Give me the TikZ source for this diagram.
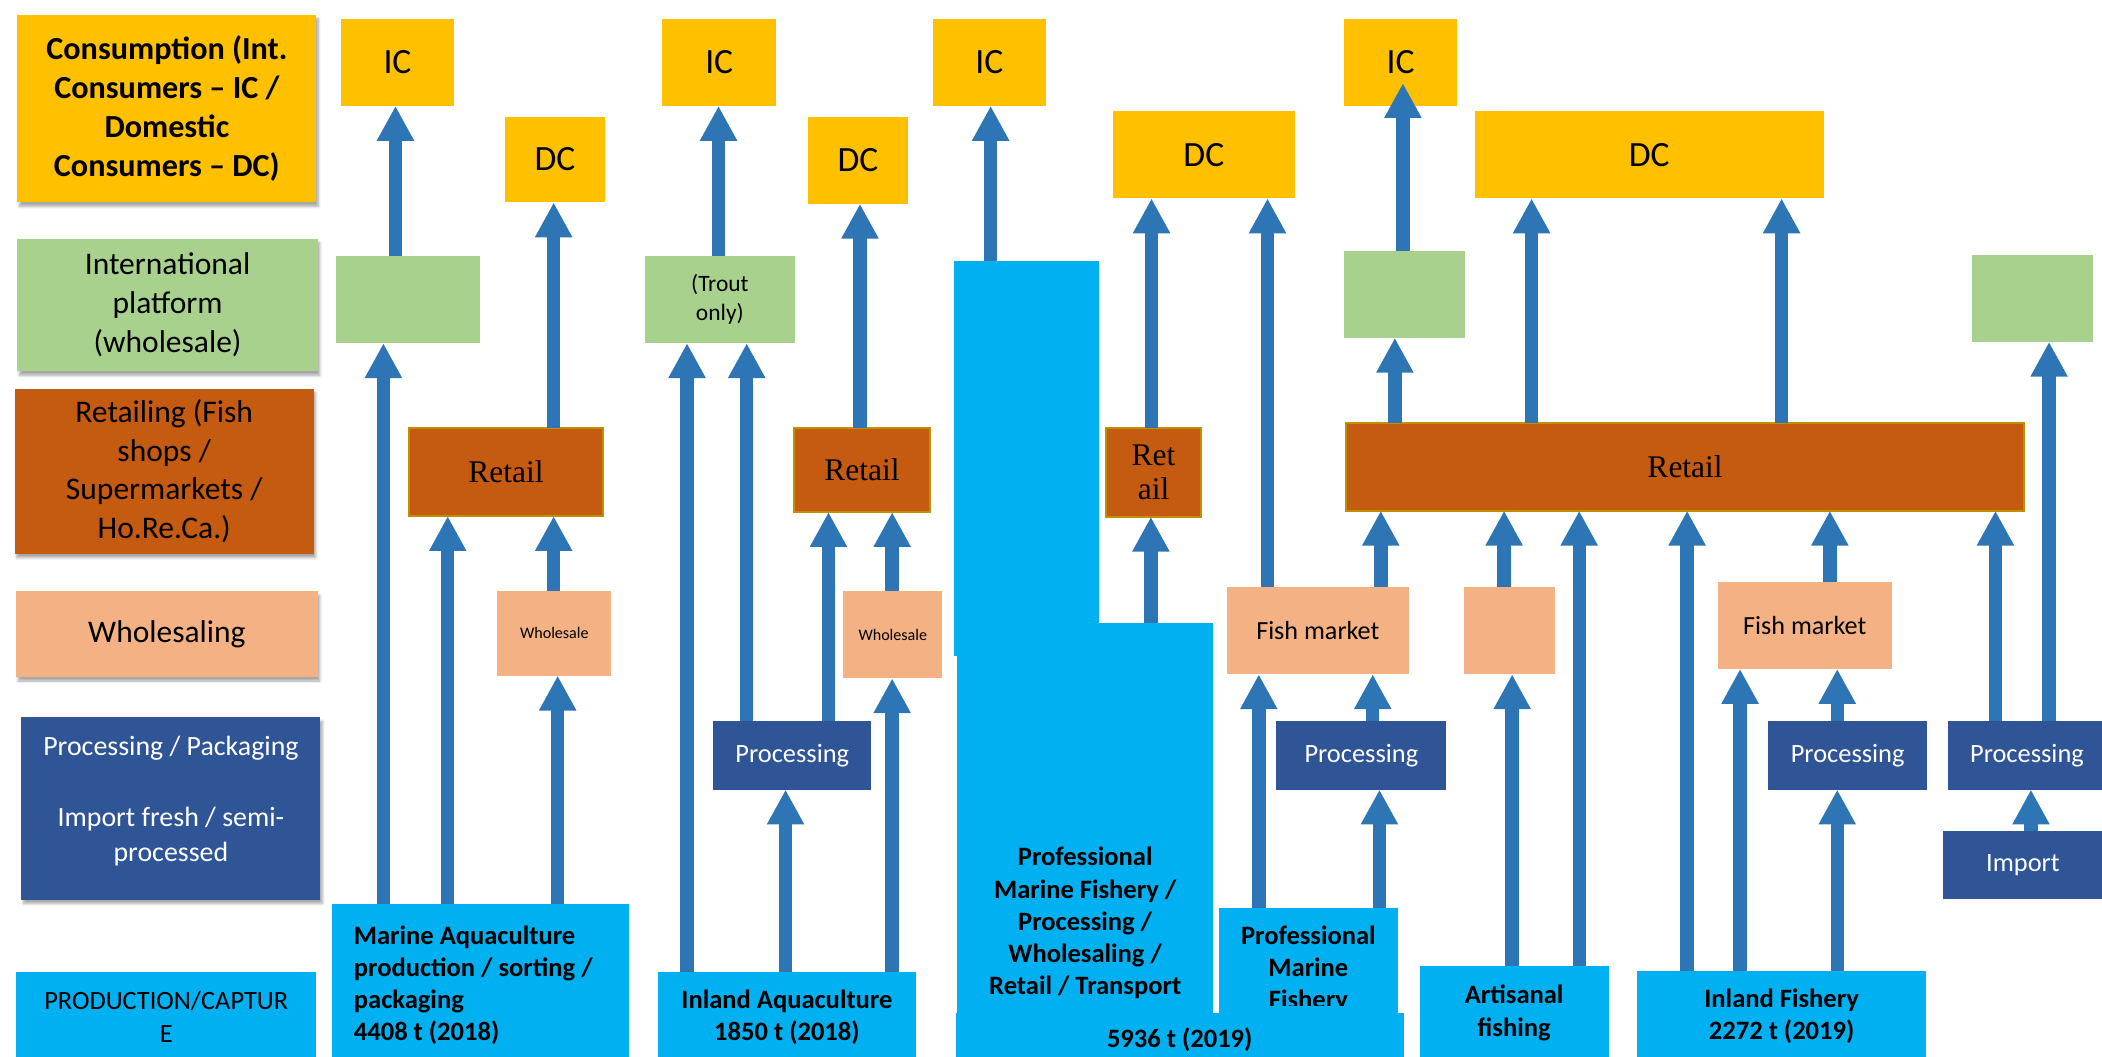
\documentclass[tikz,border=0pt]{standalone}
\usepackage{fontspec}
\setmainfont{Carlito}
\newfontfamily\retailfont{Liberation Serif}
\usetikzlibrary{arrows.meta, calc, shadows.blur}

\definecolor{consyellow}{HTML}{FFC000}
\definecolor{intlgreen}{HTML}{A9D18E}
\definecolor{retailbrown}{HTML}{C55A11}
\definecolor{retailedge}{HTML}{BF9000}
\definecolor{wholepeach}{HTML}{F4B183}
\definecolor{procblue}{HTML}{2F5597}
\definecolor{prodcyan}{HTML}{00B0F0}
\definecolor{arrowblue}{HTML}{2E75B6}

\begin{document}
\begin{tikzpicture}[
    x=1pt, y=-1pt,
    boxsize/.style 2 args={minimum width=#1pt, minimum height=#2pt},
    plain/.style={inner sep=0pt, outer sep=0pt, align=flush center},
    sidelbl/.style={plain, font=\fontsize{23.5}{29}\selectfont,
        blur shadow={shadow xshift=1.5pt, shadow yshift=-3pt, shadow blur steps=6, shadow opacity=35}},
    consbox/.style={plain, fill=consyellow, font=\fontsize{26.5}{30}\selectfont},
    intlbox/.style={plain, fill=intlgreen},
    retbox/.style={plain, fill=retailbrown, draw=retailedge, line width=1.5pt,
        font=\retailfont\fontsize{23.5}{25.7}\selectfont},
    whsbox/.style={plain, fill=wholepeach},
    procbox/.style={plain, fill=procblue, text=white, font=\fontsize{19.7}{24}\selectfont},
    prodbox/.style={plain, fill=prodcyan, font=\bfseries\fontsize{19.8}{24}\selectfont},
    flow/.style={draw=arrowblue, line width=10pt, -{Triangle[length=26pt, width=26pt]}}
]
    \useasboundingbox (0,0) rectangle (1568,788);

    % === stage labels (left) ===
    \node[sidelbl, fill=consyellow, boxsize={223}{140}, font=\bfseries\fontsize{24}{29}\selectfont]
        (lcons) at (124.5,81) {Consumption (Int.\\Consumers – IC /\\Domestic\\Consumers – DC)};
    \node[sidelbl, fill=intlgreen, boxsize={224}{99}] (lintl) at (125,227.5) {International\\platform\\(wholesale)};
    \node[sidelbl, fill=retailbrown, boxsize={223}{123}] (lret) at (122.5,351.5) {Retailing (Fish\\shops /\\Supermarkets /\\Ho.Re.Ca.)};
    \node[sidelbl, fill=wholepeach, boxsize={225}{64}] (lwhs) at (124.5,473) {Wholesaling};
    \node[sidelbl, fill=procblue, text=white, boxsize={223}{136}, font=\fontsize{20.8}{26.4}\selectfont]
        (lproc) at (127.5,603) {Processing / Packaging\\[26.4pt]Import fresh / semi-\\processed\\[-12pt]~};
    \node[plain, fill=prodcyan, boxsize={224}{67}, font=\fontsize{19.7}{24}\selectfont]
        (lprod) at (124,758.5) {PRODUCTION/CAPTUR\\E};

    % === 1. Marine aquaculture ===
    \node[consbox, boxsize={85}{65}] (ic1) at (296.5,46.5) {IC};
    \node[consbox, boxsize={74}{64}] (dc1) at (414,119) {DC};
    \node[intlbox, boxsize={107}{65}] (int1) at (304.5,223.5) {};
    \node[retbox, boxsize={145}{66}] (ret1) at (377.5,352) {Retail};
    \node[whsbox, boxsize={85}{63}, font=\fontsize{12}{14}\selectfont] (whs1) at (413.5,472.5) {Wholesale};
    \node[prodbox, boxsize={221}{122}, text width=189pt, inner xsep=16pt, align=flush left]
        (mprod) at (358.5,735) {Marine Aquaculture\\production / sorting /\\packaging\\4408 t (2018)};

    % === 2. Inland aquaculture ===
    \node[consbox, boxsize={85}{65}] (ic2) at (536.5,46.5) {IC};
    \node[consbox, boxsize={74}{65}] (dc2) at (640,119.5) {DC};
    \node[intlbox, boxsize={112}{65}, font=\fontsize{17.5}{21.5}\selectfont] (int2) at (537,223.5) {(Trout\\only)};
    \node[retbox, boxsize={102}{63}] (ret2) at (643,350.5) {Retail};
    \node[whsbox, boxsize={74}{65}, font=\fontsize{12}{14}\selectfont] (whs2) at (666,473.5) {Wholesale};
    \node[procbox, boxsize={118}{51}] (proc2) at (591,563.5) {Processing};
    \node[prodbox, boxsize={192}{68}] (iprod) at (587,759) {Inland Aquaculture\\1850 t (2018)};

    % === 3. Professional marine fishery (integrated) ===
    \node[consbox, boxsize={84}{65}] (ic3) at (738,46.5) {IC};
    \node[consbox, boxsize={136}{65}] (dc3) at (898,115.5) {DC};
    \node[retbox, boxsize={71}{66}] (ret3) at (860.5,352.5) {Ret\\ail};
    \node[prodbox, boxsize={108}{294}] (pmtall) at (766,342) {};
    \node[prodbox, boxsize={191}{291}] (pmain) at (809.5,610.5) {};
    \node[plain, font=\bfseries\fontsize{19.8}{24}\selectfont] (pmtext) at (809.5,688.5)
        {Professional\\Marine Fishery /\\Processing /\\Wholesaling /\\Retail / Transport};

    % === 4. Professional marine fishery ===
    \node[whsbox, boxsize={136}{65}, font=\fontsize{19.5}{23}\selectfont] (fm4) at (983,470.5) {Fish market};
    \node[procbox, boxsize={127}{51}] (proc4) at (1015.5,563.5) {Processing};
    \node[prodbox, boxsize={134}{79}] (pmf) at (976,716.5) {};
    \begin{scope}
        \clip (909,677) rectangle (1043,750);
        \node[plain, font=\bfseries\fontsize{19.8}{24}\selectfont] (pmftext) at (976,723) {Professional\\Marine\\Fishery};
    \end{scope}
    \node[prodbox, boxsize={334}{39}] (total) at (880,775.5) {5936 t (2019)};

    % === 5. Artisanal / inland fishery / import ===
    \node[consbox, boxsize={84.5}{65}] (ic4) at (1044.75,46.5) {IC};
    \node[consbox, boxsize={260.5}{65}] (dc4) at (1230.25,115.5) {DC};
    \node[intlbox, boxsize={90.5}{65}] (int4) at (1047.75,219.5) {};
    \node[intlbox, boxsize={90}{65}] (int5) at (1516,222.5) {};
    \node[retbox, boxsize={506}{65.5}] (ret4) at (1257,348.25) {Retail};
    \node[whsbox, boxsize={68}{65}] (whs5) at (1126,470.5) {};
    \node[whsbox, boxsize={129.5}{65}, font=\fontsize{19.5}{23}\selectfont] (fm5) at (1346.25,466.5) {Fish market};
    \node[procbox, boxsize={118.5}{51}] (proc5) at (1378.25,563.5) {Processing};
    \node[procbox, boxsize={118}{51}] (proc6) at (1512,563.5) {Processing};
    \node[procbox, boxsize={120}{50.6}] (imp) at (1509,645.3) {Import};
    \node[prodbox, boxsize={141}{70}] (artf) at (1129.5,755.6) {Artisanal\\fishing};
    \node[prodbox, boxsize={216}{68}] (infish) at (1329,758) {Inland Fishery\\2272 t (2019)};

    % === Flows ===
    \draw[flow] (295,0 |- int1.north) -- (295,0 |- ic1.south);
    \draw[flow] (413,0 |- ret1.north) -- (413,0 |- dc1.south);
    \draw[flow] (286,0 |- mprod.north) -- (286,0 |- int1.south);
    \draw[flow] (334,0 |- mprod.north) -- (334,0 |- ret1.south);
    \draw[flow] (413,0 |- whs1.north) -- (413,0 |- ret1.south);
    \draw[flow] (416,0 |- mprod.north) -- (416,0 |- whs1.south);

    \draw[flow] (536,0 |- int2.north) -- (536,0 |- ic2.south);
    \draw[flow] (641.5,0 |- ret2.north) -- (641.5,0 |- dc2.south);
    \draw[flow] (512.5,0 |- iprod.north) -- (512.5,0 |- int2.south);
    \draw[flow] (557,0 |- proc2.north) -- (557,0 |- int2.south);
    \draw[flow] (618,0 |- proc2.north) -- (618,0 |- ret2.south);
    \draw[flow] (665.5,0 |- whs2.north) -- (665.5,0 |- ret2.south);
    \draw[flow] (665.5,0 |- iprod.north) -- (665.5,0 |- whs2.south);
    \draw[flow] (586,0 |- iprod.north) -- (586,0 |- proc2.south);

    \draw[flow] (739,0 |- pmtall.north) -- (739,0 |- ic3.south);
    \draw[flow] (858.5,0 |- pmain.north) -- (858.5,0 |- ret3.south);
    \draw[flow] (859,0 |- ret3.north) -- (859,0 |- dc3.south);
    \draw[flow] (945.5,0 |- fm4.north) -- (945.5,0 |- dc3.south);

    \draw[flow] (1030,0 |- fm4.north) -- (1030,0 |- ret4.south);
    \draw[flow] (1024,0 |- proc4.north) -- (1024,0 |- fm4.south);
    \draw[flow] (1029,0 |- pmf.north) -- (1029,0 |- proc4.south);
    \draw[flow] (939,0 |- pmf.north) -- (939,0 |- fm4.south);

    \draw[flow] (1046.5,0 |- int4.north) -- ($(1046.5,0 |- ic4.south)+(0,-17)$);
    \draw[flow] (1040.5,0 |- ret4.north) -- (1040.5,0 |- int4.south);
    \draw[flow] (1142.5,0 |- ret4.north) -- (1142.5,0 |- dc4.south);
    \draw[flow] (1329,0 |- ret4.north) -- (1329,0 |- dc4.south);
    \draw[flow] (1122,0 |- whs5.north) -- (1122,0 |- ret4.south);
    \draw[flow] (1128,0 |- artf.north) -- (1128,0 |- whs5.south);
    \draw[flow] (1178,0 |- artf.north) -- (1178,0 |- ret4.south);
    \draw[flow] (1258.5,0 |- infish.north) -- (1258.5,0 |- ret4.south);
    \draw[flow] (1298,0 |- infish.north) -- (1298,0 |- fm5.south);
    \draw[flow] (1365,0 |- fm5.north) -- (1365,0 |- ret4.south);
    \draw[flow] (1370.5,0 |- proc5.north) -- (1370.5,0 |- fm5.south);
    \draw[flow] (1370.5,0 |- infish.north) -- (1370.5,0 |- proc5.south);
    \draw[flow] (1488.5,0 |- proc6.north) -- (1488.5,0 |- ret4.south);
    \draw[flow] (1528.5,0 |- proc6.north) -- (1528.5,0 |- int5.south);
    \draw[flow] (1515,0 |- imp.north) -- (1515,0 |- proc6.south);

\end{tikzpicture}
\end{document}
